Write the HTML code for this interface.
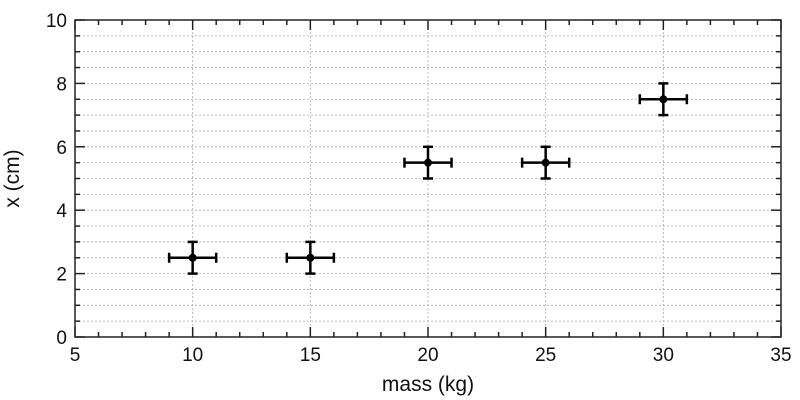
<!DOCTYPE html>
<html><head><style>body{margin:0;background:#fff}svg{display:block}</style></head>
<body>
<svg id="s" width="800" height="400" xmlns="http://www.w3.org/2000/svg" font-family="Liberation Sans, sans-serif"></svg>
<script>
const s=document.getElementById('s');
const L=75,R=781,T=20,B=337;
const X=v=>L+(v-5)*(R-L)/30, Y=v=>B-v*(B-T)/10;
let h='';
for(let i=1;i<20;i++){const y=Y(i*0.5);h+=`<line x1="${L}" x2="${R}" y1="${y}" y2="${y}" stroke="#aaa" stroke-width="0.8" stroke-dasharray="2,2"/>`;}
for(let v=10;v<35;v+=5){const x=X(v);h+=`<line x1="${x}" x2="${x}" y1="${T}" y2="${B}" stroke="#aaa" stroke-width="0.8" stroke-dasharray="2,2"/>`;}
for(let v=5;v<=35;v++){const x=X(v),len=v%5==0?10:5;
h+=`<line x1="${x}" x2="${x}" y1="${B}" y2="${B-len}" stroke="#222" stroke-width="1.5"/><line x1="${x}" x2="${x}" y1="${T}" y2="${T+len}" stroke="#222" stroke-width="1.5"/>`;
if(v%5==0)h+=`<text x="${x}" y="${B+24}" font-size="19" text-anchor="middle" fill="#111">${v}</text>`;}
for(let i=0;i<=20;i++){const y=Y(i*0.5),len=i%4==0?10:5;
h+=`<line x1="${L}" x2="${L+len}" y1="${y}" y2="${y}" stroke="#222" stroke-width="1.5"/><line x1="${R}" x2="${R-len}" y1="${y}" y2="${y}" stroke="#222" stroke-width="1.5"/>`;
if(i%4==0)h+=`<text x="${L-8}" y="${y+7}" font-size="19" text-anchor="end" fill="#111">${i/2}</text>`;}
h+=`<rect x="${L}" y="${T}" width="${R-L}" height="${B-T}" fill="none" stroke="#222" stroke-width="1.5"/>`;
[[10,2.5],[15,2.5],[20,5.5],[25,5.5],[30,7.5]].forEach(([a,b])=>{
const x=X(a),y=Y(b),x1=X(a-1),x2=X(a+1),y1=Y(b-0.5),y2=Y(b+0.5);
h+=`<g stroke="#000" stroke-width="2.5"><line x1="${x1}" x2="${x2}" y1="${y}" y2="${y}"/><line x1="${x}" x2="${x}" y1="${y1}" y2="${y2}"/>
<line x1="${x1}" x2="${x1}" y1="${y-5}" y2="${y+5}"/><line x1="${x2}" x2="${x2}" y1="${y-5}" y2="${y+5}"/>
<line x1="${x-5}" x2="${x+5}" y1="${y1}" y2="${y1}"/><line x1="${x-5}" x2="${x+5}" y1="${y2}" y2="${y2}"/></g><circle cx="${x}" cy="${y}" r="4" fill="#000"/>`;});
h+=`<text x="${(L+R)/2}" y="391" font-size="21" text-anchor="middle" fill="#111">mass (kg)</text>`;
h+=`<text transform="translate(19,${(T+B)/2}) rotate(-90)" font-size="21" text-anchor="middle" fill="#111">x (cm)</text>`;
s.innerHTML=h;
</script>
</body></html>
